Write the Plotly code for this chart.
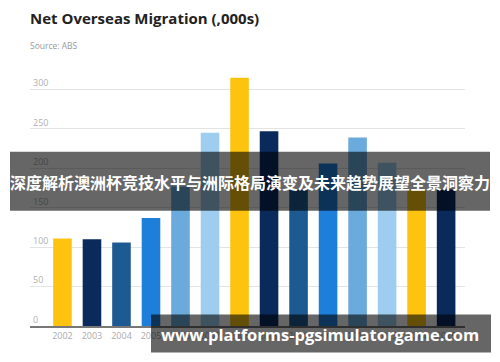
import plotly.graph_objects as go

years = ["2002", "2003", "2004", "2005", "2006", "2007", "2008",
         "2009", "2010", "2011", "2012", "2013", "2014", "2015"]
nom = [111, 110, 106, 137, 177, 245, 315, 247, 173, 206, 239, 207, 173, 173]
palette = ["#FDC30F", "#0A2A5C", "#1E5A92", "#1E7FDA", "#6AAADC", "#9FCDF0"]
bar_colors = [palette[i % len(palette)] for i in range(len(years))]
y_ticks = [0, 50, 100, 150, 200, 250, 300]

title_text = "Net Overseas Migration (,000s)"
source_text = "Source: ABS"
banner_text = "深度解析澳洲杯竞技水平与洲际格局演变及未来趋势展望全景洞察力"
url_text = "www.platforms-pgsimulatorgame.com"

W, H = 500, 362
L, R, T, B = 30, 35, 70, 35.5
pw, ph = W - L - R, H - T - B

def px(x):
    return (x - L) / pw

def py(y):
    return (H - B - y) / ph

fig = go.Figure(go.Bar(
    x=list(range(len(years))), y=nom, marker_color=bar_colors,
    marker_line_width=0, width=0.63, hoverinfo="skip"))

fig.update_layout(
    width=W, height=H, margin=dict(l=L, r=R, t=T, b=B),
    paper_bgcolor="white", plot_bgcolor="white", showlegend=False,
    font=dict(family="Open Sans", color="#aaaaaa"),
    xaxis=dict(
        tickmode="array", tickvals=list(range(len(years))), ticktext=years,
        range=[-1.1, 13.64], showgrid=False, zeroline=False,
        showline=True, linecolor="#777777", linewidth=1.5,
        ticks="", tickfont=dict(size=9, color="#aaaaaa")),
    yaxis=dict(
        range=[0, ph / 0.79], tickmode="array", tickvals=y_ticks,
        showgrid=True, gridcolor="#e3e3e3", gridwidth=1, zeroline=False,
        ticklabelposition="inside top", ticks="",
        tickfont=dict(size=9, color="#b0b0b0")),
)

fig.add_annotation(text="<b>" + title_text + "</b>", x=px(28), y=py(18),
                   xref="paper", yref="paper", xanchor="left", yanchor="middle",
                   showarrow=False, font=dict(family="Open Sans", size=15, color="#222222"))
fig.add_annotation(text=source_text, x=px(28), y=py(45.5),
                   xref="paper", yref="paper", xanchor="left", yanchor="middle",
                   showarrow=False, font=dict(family="Open Sans", size=8.5, color="#999999"))

# overlay banners
fig.add_shape(type="rect", xref="paper", yref="paper",
              x0=px(10), x1=px(490), y0=py(211), y1=py(152),
              fillcolor="rgba(0,0,0,0.6)", line_width=0, layer="above")
fig.add_annotation(text="<b>" + banner_text + "</b>", x=px(250), y=py(182),
                   xref="paper", yref="paper", xanchor="center", yanchor="middle",
                   showarrow=False,
                   font=dict(family="Noto Sans CJK SC", size=16, color="white"))
fig.add_shape(type="rect", xref="paper", yref="paper",
              x0=px(151), x1=px(491), y0=py(353), y1=py(315),
              fillcolor="rgba(0,0,0,0.6)", line_width=0, layer="above")
fig.add_annotation(text="<b>" + url_text + "</b>", x=px(320), y=py(335),
                   xref="paper", yref="paper", xanchor="center", yanchor="middle",
                   showarrow=False,
                   font=dict(family="Open Sans", size=16.5, color="white"))

fig.write_html("out.html")
